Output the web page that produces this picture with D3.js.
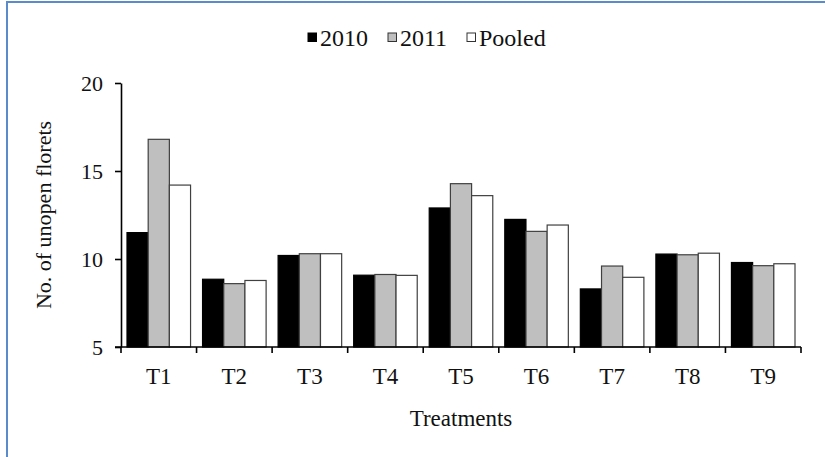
<!DOCTYPE html>
<meta charset="utf-8">
<script src="https://d3js.org/d3.v7.min.js"></script>
<style>
  body { margin: 0; background: #fff; }
  text { font-family: "Liberation Serif", "Times New Roman", serif; fill: #111; }
</style>
<div id="my_dataviz"></div>
<script>

// data
var treatments = ["T1", "T2", "T3", "T4", "T5", "T6", "T7", "T8", "T9"];
var seriesNames = ["2010", "2011", "Pooled"];
var values2010 = [11.5, 8.85, 10.2, 9.08, 12.9, 12.25, 8.3, 10.28, 9.8];
var values2011 = [16.8, 8.6, 10.3, 9.12, 14.28, 11.57, 9.6, 10.24, 9.62];
var valuesPooled = [14.2, 8.78, 10.3, 9.07, 13.6, 11.93, 8.96, 10.33, 9.73];
var yTicks = [5, 10, 15, 20];
var colors = ["#000000", "#bfbfbf", "#ffffff"];
var strokes = ["#000000", "#404040", "#404040"];

var W = 825, H = 457;
var margin = {top: 83, right: 24, bottom: 110, left: 121},
    width = W - margin.left - margin.right,
    height = H - margin.top - margin.bottom;

var svg = d3.select("#my_dataviz")
  .append("svg")
    .attr("width", W)
    .attr("height", H);

// blue frame around the picture
svg.append("rect")
  .attr("x", 7).attr("y", 2)
  .attr("width", W + 10).attr("height", H + 10)
  .attr("fill", "none")
  .attr("stroke", "#5b8bcb")
  .attr("stroke-width", 2);

var g = svg.append("g")
  .attr("transform", "translate(" + margin.left + "," + margin.top + ")");

var rows = treatments.map(function(t, i) {
  return {name: t, vals: [values2010[i], values2011[i], valuesPooled[i]]};
});

var x0 = d3.scaleBand()
  .domain(treatments)
  .range([0, width])
  .padding(0);

var x1 = d3.scaleBand()
  .domain([0, 1, 2])
  .range([6, x0.bandwidth() - 6])
  .padding(0);

var y = d3.scaleLinear()
  .domain([5, 20])
  .range([height, 0]);

// bars
var groups = g.selectAll(".grp")
  .data(rows)
  .enter()
  .append("g")
    .attr("transform", function(d) { return "translate(" + x0(d.name) + ",0)"; });

groups.selectAll("rect")
  .data(function(d) { return d.vals; })
  .enter()
  .append("rect")
    .attr("x", function(d, i) { return x1(i); })
    .attr("y", function(d) { return y(d); })
    .attr("width", x1.bandwidth())
    .attr("height", function(d) { return height - y(d); })
    .attr("fill", function(d, i) { return colors[i]; })
    .attr("stroke", function(d, i) { return strokes[i]; })
    .attr("stroke-width", 1.2);

// Y axis
var yAxis = g.append("g")
  .call(d3.axisLeft(y).tickValues(yTicks).tickSize(6).tickPadding(12).tickSizeOuter(0));
yAxis.select(".domain").attr("stroke-width", 1.6);
yAxis.selectAll(".tick line").attr("stroke-width", 1.6);
yAxis.selectAll("text").style("font-size", "22px").attr("fill", "#222");

// X axis with ticks at band boundaries
var xAxis = g.append("g")
  .attr("transform", "translate(0," + height + ")");
xAxis.append("line")
  .attr("x1", -6).attr("x2", width)
  .attr("stroke", "#000").attr("stroke-width", 1.6);
xAxis.selectAll(".bt")
  .data(treatments.concat(["end"]))
  .enter()
  .append("line")
    .attr("x1", function(d) { return d === "end" ? width : x0(d); })
    .attr("x2", function(d) { return d === "end" ? width : x0(d); })
    .attr("y1", 0).attr("y2", 6)
    .attr("stroke", "#000").attr("stroke-width", 1.6);
xAxis.selectAll(".lbl")
  .data(treatments)
  .enter()
  .append("text")
    .attr("x", function(d) { return x0(d) + x0.bandwidth() / 2; })
    .attr("y", 37)
    .attr("text-anchor", "middle")
    .style("font-size", "23px")
    .text(function(d) { return d; });

// axis titles
g.append("text")
  .attr("x", width / 2)
  .attr("y", height + 79)
  .attr("text-anchor", "middle")
  .style("font-size", "23px")
  .text("Treatments");

g.append("text")
  .attr("transform", "translate(" + (-70) + "," + (height / 2) + ")rotate(-90)")
  .attr("text-anchor", "middle")
  .style("font-size", "22px")
  .text("No. of unopen florets");

// legend
var legendX = [308, 388, 467];
var legend = svg.selectAll(".leg")
  .data(seriesNames)
  .enter()
  .append("g")
    .attr("transform", function(d, i) { return "translate(" + legendX[i] + ",33)"; });
legend.append("rect")
  .attr("width", 8.5).attr("height", 8.5)
  .attr("fill", function(d, i) { return colors[i]; })
  .attr("stroke", function(d, i) { return i === 0 ? "#000" : "#333"; })
  .attr("stroke-width", 1);
legend.append("text")
  .attr("x", 12)
  .attr("y", 13)
  .style("font-size", "24px")
  .text(function(d) { return d; });

</script>
